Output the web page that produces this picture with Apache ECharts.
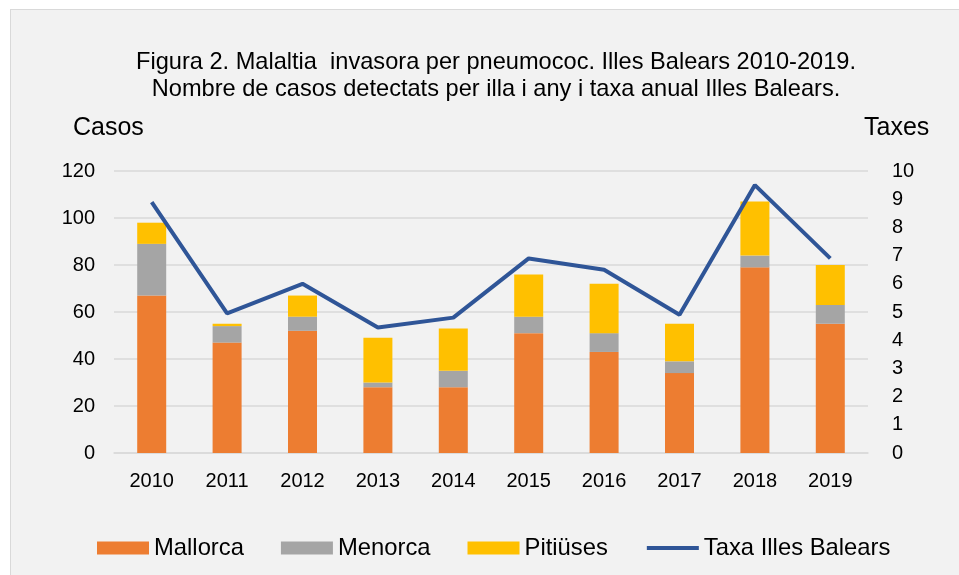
<!DOCTYPE html>
<html>
<head>
<meta charset="utf-8">
<script src="https://cdn.jsdelivr.net/npm/echarts@6/dist/echarts.min.js"></script>
<style>
  html, body { margin: 0; padding: 0; background: #fff; }
  #wrap { position: relative; width: 959px; height: 575px; overflow: hidden; }
  #panel { position: absolute; left: 10px; top: 9px; width: 960px; height: 580px;
           background: #f2f2f2; border: 1px solid #d9d9d9; }
  #main { position: absolute; left: 0; top: 0; width: 959px; height: 575px; }
</style>
</head>
<body>
<div id="wrap">
  <div id="panel"></div>
  <div id="main"></div>
</div>
<script>
/* dades */
var anys = ['2010', '2011', '2012', '2013', '2014', '2015', '2016', '2017', '2018', '2019'];
var mallorca = [67, 47, 52, 28, 28, 51, 43, 34, 79, 55];
var menorca  = [22, 7, 6, 2, 7, 7, 8, 5, 5, 8];
var pitiuses = [9, 1, 9, 19, 18, 18, 21, 16, 23, 17];
var taxa     = [8.9, 4.95, 6.0, 4.45, 4.8, 6.9, 6.5, 4.9, 9.5, 6.9];

var font = 'Liberation Sans, Arial, sans-serif';

var myChart = echarts.init(document.getElementById('main'));

var option = {
    backgroundColor: 'transparent',
    textStyle: { fontFamily: font },
    title: {
        text: 'Figura 2. Malaltia  invasora per pneumococ. Illes Balears 2010-2019.\nNombre de casos detectats per illa i any i taxa anual Illes Balears.',
        left: 491,
        top: 44,
        textAlign: 'center',
        textStyle: {
            fontFamily: font,
            fontSize: 23.6,
            fontWeight: 'normal',
            color: '#000',
            lineHeight: 27,
            align: 'center'
        }
    },
    graphic: [
        { type: 'text', left: 73, top: 116, style: { text: 'Casos', font: '25px ' + font, fill: '#000' } },
        { type: 'text', left: 864, top: 116, style: { text: 'Taxes', font: '25px ' + font, fill: '#000' } }
    ],
    legend: {
        left: 92,
        top: 531,
        itemWidth: 52,
        itemHeight: 13,
        itemGap: 37,
        textStyle: { fontFamily: font, fontSize: 23.8, color: '#000' },
        data: [
            { name: 'Mallorca', icon: 'rect' },
            { name: 'Menorca', icon: 'rect' },
            { name: 'Pitiüses', icon: 'rect' },
            { name: 'Taxa Illes Balears', itemStyle: { opacity: 0 }, lineStyle: { width: 4, color: '#2f5597' } }
        ]
    },
    grid: {
        left: 114,
        right: 91,
        top: 171,
        bottom: 122
    },
    xAxis: {
        type: 'category',
        data: anys,
        axisTick: { show: false },
        axisLine: { lineStyle: { color: '#d9d9d9', width: 1.5 } },
        axisLabel: { color: '#000', fontSize: 20, margin: 18, fontFamily: font }
    },
    yAxis: [
        {
            type: 'value',
            min: 0,
            max: 120,
            interval: 20,
            axisLine: { show: false },
            axisTick: { show: false },
            splitLine: { lineStyle: { color: '#d9d9d9', width: 1.5 } },
            axisLabel: { color: '#000', fontSize: 20, margin: 19, fontFamily: font }
        },
        {
            type: 'value',
            min: 0,
            max: 10,
            interval: 1,
            position: 'right',
            axisLine: { show: false },
            axisTick: { show: false },
            splitLine: { show: false },
            axisLabel: { color: '#000', fontSize: 20, margin: 24, align: 'left', fontFamily: font }
        }
    ],
    series: [
        {
            name: 'Mallorca',
            type: 'bar',
            stack: 'casos',
            barWidth: 29,
            itemStyle: { color: '#ed7d31' },
            data: mallorca
        },
        {
            name: 'Menorca',
            type: 'bar',
            stack: 'casos',
            barWidth: 29,
            itemStyle: { color: '#a5a5a5' },
            data: menorca
        },
        {
            name: 'Pitiüses',
            type: 'bar',
            stack: 'casos',
            barWidth: 29,
            itemStyle: { color: '#ffc000' },
            data: pitiuses
        },
        {
            name: 'Taxa Illes Balears',
            type: 'line',
            yAxisIndex: 1,
            symbol: 'none',
            z: 5,
            lineStyle: { color: '#2f5597', width: 4 },
            itemStyle: { color: '#2f5597' },
            data: taxa
        }
    ]
};

myChart.setOption(option);
</script>
</body>
</html>
